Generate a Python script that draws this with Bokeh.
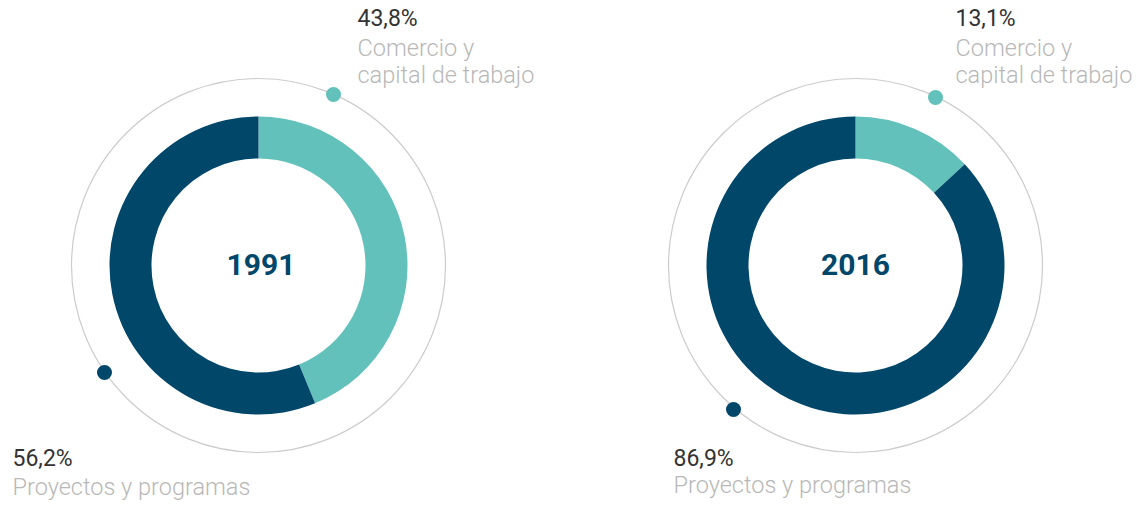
from bokeh.plotting import figure
from bokeh.models import Range1d, ColumnDataSource
from bokeh.core.properties import value
from bokeh.embed import file_html
from bokeh.resources import INLINE
import numpy as np

# ---- data ----
years = ["1991", "2016"]
categories = ["Comercio y\ncapital de trabajo", "Proyectos y programas"]
comercio = [43.8, 13.1]
proyectos = [56.2, 86.9]
pct_labels_comercio = ["43,8%", "13,1%"]
pct_labels_proyectos = ["56,2%", "86,9%"]

# ---- layout / style ----
W, H = 1137, 505
TEAL = "#62C1BA"
NAVY = "#00476A"
centers = [(258, 240), (855, 240)]
R_IN, R_OUT, R_GUIDE = 107, 149, 187
dot_teal = [(333, 411), (935, 408)]
dot_navy = [(104, 133), (733, 96)]
label_top_x = [357, 955]
label_bot_x = [12, 673]
bot_pct_y = [47, 47]
bot_lab_y = [19, 21]
LIGHT = value("Roboto Light")

p = figure(width=W, height=H, x_range=Range1d(0, W), y_range=Range1d(0, H),
           output_backend="svg", toolbar_location=None, min_border=0)
p.axis.visible = False
p.grid.visible = False
p.outline_line_color = None
p.background_fill_color = "white"

for i, (cx, cy) in enumerate(centers):
    total = comercio[i] + proyectos[i]
    a0 = np.pi / 2
    a1 = a0 - 2 * np.pi * comercio[i] / total
    a2 = a1 - 2 * np.pi * proyectos[i] / total
    src = ColumnDataSource(dict(x=[cx, cx], y=[cy, cy], start=[a1, a2], end=[a0, a1],
                                color=[TEAL, NAVY]))
    p.annular_wedge(x="x", y="y", inner_radius=R_IN, outer_radius=R_OUT,
                    start_angle="start", end_angle="end", color="color",
                    line_color=None, source=src)
    p.circle(x=[cx], y=[cy], radius=R_GUIDE, fill_color=None,
             line_color="#cccccc", line_width=1.2)
    for (dx, dy), col in ((dot_teal[i], TEAL), (dot_navy[i], NAVY)):
        p.circle(x=[dx], y=[dy], radius=7.5, fill_color=col, line_color=None)
    # year
    p.text(x=[cx + (2.5 if i == 0 else 0)], y=[cy + 1], text=[years[i]],
           text_align="center", text_baseline="alphabetic",
           text_font=value("Roboto"), text_font_style="bold",
           text_font_size="30px", text_color=NAVY)
    # top label
    p.text(x=[label_top_x[i]], y=[487], text=[pct_labels_comercio[i]],
           text_baseline="alphabetic", text_font=value("Roboto"),
           text_font_size="23px", text_color="#333333")
    lines = categories[0].split("\n")
    p.text(x=[label_top_x[i]] * 2, y=[458, 431], text=lines,
           text_baseline="alphabetic", text_font=LIGHT,
           text_font_size="23.5px", text_color="#b8b8b8")
    # bottom label
    p.text(x=[label_bot_x[i]], y=[bot_pct_y[i]], text=[pct_labels_proyectos[i]],
           text_baseline="alphabetic", text_font=value("Roboto"),
           text_font_size="23px", text_color="#333333")
    p.text(x=[label_bot_x[i]], y=[bot_lab_y[i]], text=[categories[1]],
           text_baseline="alphabetic", text_font=LIGHT,
           text_font_size="23.5px", text_color="#b8b8b8")

open("out.html", "w").write(file_html(p, INLINE))
